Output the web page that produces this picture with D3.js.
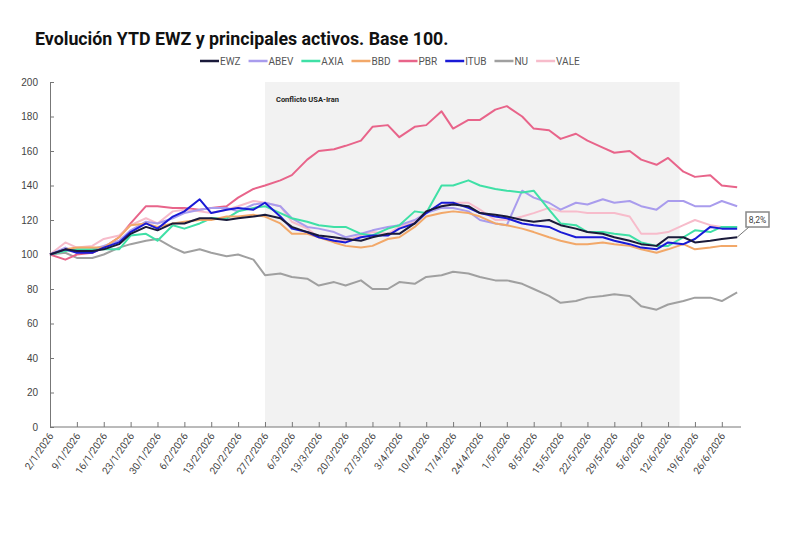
<!DOCTYPE html>
<html><head><meta charset="utf-8">
<script src="https://cdn.jsdelivr.net/npm/d3@7"></script>
<style>body{margin:0;background:#fff;font-family:Roboto,"Noto Sans",sans-serif}</style>
</head><body><svg id="c" width="800" height="533"></svg>
<script>
const dates=["2/1","6/1","9/1","13/1","16/1","20/1","23/1","27/1","30/1","3/2","6/2","10/2","13/2","17/2","20/2","24/2","27/2","3/3","6/3","10/3","13/3","17/3","20/3","24/3","27/3","31/3","3/4","7/4","10/4","14/4","17/4","21/4","24/4","28/4","1/5","5/5","8/5","12/5","15/5","19/5","22/5","26/5","29/5","2/6","5/6","9/6","12/6","16/6","19/6","23/6","26/6","30/6"];
const seriesNames=["EWZ","ABEV","AXIA","BBD","PBR","ITUB","NU","VALE"];
const colors=["#1a1a3a","#a99ced","#3fe0a6","#f2a869","#e8648a","#1a1ad6","#a0a0a0","#f7bccb"];
const EWZ=[100,103,102,102,103,106,112,116,114,118,118,121,121,120,121,122,123,121,116,113,111,110,109,108,110,112,112,118,125,128,129,128,124,123,122,120,119,120,117,115,113,112,110,108,106,105,110,110,107,108,109,110];
const ABEV=[100,104,101,103,105,108,114,119,118,121,124,126,127,127,125,129,130,128,121,116,115,113,110,112,114,116,117,120,124,127,127,125,120,118,117,137,133,130,126,130,129,132,130,131,128,126,131,131,128,128,131,128];
const AXIA=[100,102,103,103,103,103,111,112,108,117,115,118,121,121,125,127,128,124,121,119,117,116,116,112,111,115,117,125,124,140,140,143,140,138,137,136,137,126,118,117,113,113,112,111,107,105,105,110,114,113,116,116];
const BBD=[100,103,104,104,104,110,117,118,116,118,119,120,120,122,122,123,122,118,112,112,110,107,105,104,105,109,110,116,122,124,125,124,122,118,117,115,113,110,108,106,106,107,106,105,103,101,103,106,103,104,105,105];
const PBR=[100,97,100,101,104,110,118,128,128,127,127,126,127,128,133,138,140,143,146,155,160,161,163,166,174,175,168,174,175,183,173,178,178,184,186,180,173,172,167,170,166,162,159,160,155,152,156,148,145,146,140,139];
const ITUB=[100,103,101,101,104,107,113,118,115,122,125,132,124,126,127,126,130,122,115,113,110,108,107,110,111,111,115,118,124,130,130,127,124,122,121,118,117,116,113,110,110,110,108,106,104,103,107,106,109,116,115,115];
const NU=[100,101,98,98,100,104,106,108,109,104,101,103,101,99,100,97,88,89,87,86,82,84,82,85,80,80,84,83,87,88,90,89,87,85,85,83,80,76,72,73,75,76,77,76,70,68,71,73,75,75,73,78];
const VALE=[100,107,104,105,109,111,117,121,118,125,126,125,124,126,128,131,130,128,119,115,110,108,108,111,113,112,116,119,125,128,130,130,126,120,120,122,124,127,125,125,124,124,124,122,112,112,113,117,120,117,116,116];
const allSeries=[EWZ,ABEV,AXIA,BBD,PBR,ITUB,NU,VALE];
const yTicks=[0,20,40,60,80,100,120,140,160,180,200];
const xTickLabels=["2/1/2026","9/1/2026","16/1/2026","23/1/2026","30/1/2026","6/2/2026","13/2/2026","20/2/2026","27/2/2026","6/3/2026","13/3/2026","20/3/2026","27/3/2026","3/4/2026","10/4/2026","17/4/2026","24/4/2026","1/5/2026","8/5/2026","15/5/2026","22/5/2026","29/5/2026","5/6/2026","12/6/2026","19/6/2026","26/6/2026"];
const shadeStart="27/2/2026", shadeEnd="15/6/2026";
const endLabel="8,2%";

const P=s=>{const [d,m,y]=s.split("/");return new Date(+(y||2026),m-1,+d);};
const svg=d3.select("#c");
const x=d3.scaleTime().domain([P("2/1/2026"),P("1/7/2026")]).range([50,741]);
const y=d3.scaleLinear().domain([0,200]).range([427,82]);

svg.append("rect").attr("x",x(P(shadeStart))).attr("y",y(200)).attr("width",x(P(shadeEnd))-x(P(shadeStart))).attr("height",y(0)-y(200)).attr("fill","#f2f2f2");
svg.append("text").attr("x",x(P(shadeStart))+11).attr("y",102).attr("font-size",7.5).attr("font-weight","bold").attr("fill","#222").text("Conflicto USA-Iran");

const ya=svg.append("g").attr("transform","translate(50,0)").call(d3.axisRight(y).tickValues(yTicks).tickSize(4).tickFormat(d=>d));
ya.selectAll("text").attr("x",-12).attr("text-anchor","end").attr("font-size",10).attr("fill","#444");
ya.select(".domain").attr("stroke","#777");ya.selectAll("line").attr("stroke","#777");

const xa=svg.append("g").attr("transform","translate(0,427)").call(d3.axisTop(x).tickValues(xTickLabels.map(P)).tickSize(5).tickFormat(""));
xa.select(".domain").attr("stroke","#777").attr("d","M50,0H741");xa.selectAll("line").attr("stroke","#777");
svg.append("g").selectAll("text").data(xTickLabels).join("text")
 .attr("transform",d=>`translate(${x(P(d))+4},${436}) rotate(-55)`).attr("text-anchor","end")
 .attr("font-size",10).attr("fill","#444").text(d=>d);

const line=d3.line().x((d,i)=>x(P(dates[i]+"/2026"))).y(d=>y(d));
const order=[6,4,7,1,2,3,5,0];
order.forEach(k=>{svg.append("path").datum(allSeries[k]).attr("d",line).attr("fill","none").attr("stroke",colors[k]).attr("stroke-width",2).attr("stroke-linejoin","round");});

const lx=x(P("30/6/2026")), ly=y(EWZ[EWZ.length-1]);
svg.append("line").attr("x1",lx).attr("y1",ly).attr("x2",749).attr("y2",227).attr("stroke","#777");
svg.append("rect").attr("x",746).attr("y",212).attr("width",23).attr("height",15).attr("fill","#fff").attr("stroke","#888").attr("stroke-width",1.5);
svg.append("text").attr("x",757.5).attr("y",223).attr("text-anchor","middle").attr("font-size",8.5).attr("fill","#444").text(endLabel);

svg.append("text").attr("x",35).attr("y",45).attr("font-size",17.8).attr("font-weight","bold").attr("fill","#111").text("Evolución YTD EWZ y principales activos. Base 100.");

const lg=svg.append("g");
let lxp=200;
seriesNames.forEach((n,k)=>{
 lg.append("line").attr("x1",lxp).attr("x2",lxp+19).attr("y1",61).attr("y2",61).attr("stroke",colors[k]).attr("stroke-width",2.5);
 const t=lg.append("text").attr("x",lxp+20).attr("y",64.5).attr("font-size",10).attr("fill","#555").text(n);
 lxp+=20+t.node().getComputedTextLength()+8;
});
</script></body></html>
